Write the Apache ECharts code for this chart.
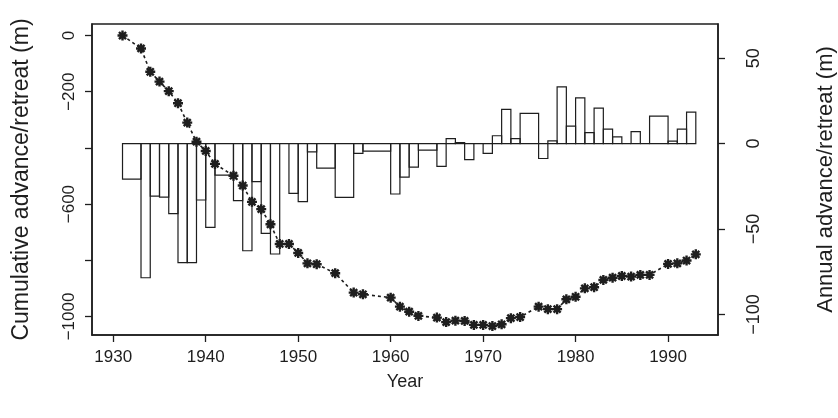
<!DOCTYPE html>
<html>
<head>
<meta charset="utf-8">
<script src="https://cdn.jsdelivr.net/npm/echarts@6/dist/echarts.min.js"></script>
<style>
html,body{margin:0;padding:0;background:#ffffff;}
#chart{width:838px;height:418px;}
</style>
</head>
<body>
<div id="chart"></div>
<script>
// Survey years and cumulative advance/retreat (m), left axis
const years = [1931,1933,1934,1935,1936,1937,1938,1939,1940,1941,
  1943,1944,1945,1946,1947,1948,1949,1950,1951,1952,
  1954,1956,1957,1960,1961,1962,1963,1965,1966,1967,
  1968,1969,1970,1971,1972,1973,1974,1976,1977,1978,
  1979,1980,1981,1982,1983,1984,1985,1986,1987,1988,
  1990,1991,1992,1993];
const cumulative = [0,-46,-129,-164,-198,-241,-310,-378,-411,-457,
  -499,-534,-592,-618,-672,-742,-742,-774,-811,-814,
  -846,-915,-921,-933,-965,-983,-998,-1004,-1020,-1015,
  -1016,-1030,-1030,-1034,-1028,-1006,-1002,-965,-974,-974,
  -939,-930,-900,-896,-870,-862,-856,-858,-852,-852,
  -813,-811,-801,-779];
// Annual advance/retreat (m) for each interval between survey years, right axis
const annual = [-20.8,-78.5,-30.7,-31.3,-41,-69.7,-69.7,-33,-49,-18.4,
  -33.4,-62.7,-22.3,-52.5,-64.6,0,-29.1,-34,-4.8,-14.3,
  -31.5,-5.7,-4.4,-29.5,-19.6,-13.7,-3.8,-13.3,2.9,0.6,
  -9.4,0,-5.7,4.6,20,2.9,17.7,-8.7,1.6,33.2,
  10.2,26.8,6.4,20.8,8.5,4,0,7,0,16.1,
  1.5,8.5,18.4];
// Tick labels
const xTicks = [1930,1940,1950,1960,1970,1980,1990];
const leftTicks = [0,-200,-400,-600,-800,-1000];
const leftLabels = [0,-200,-600,-1000];
const rightTicks = [50,0,-50,-100];

const barData = annual.map((v,i)=>[years[i], years[i+1], v]);
const lineData = years.map((y,i)=>[y, cumulative[i]]);

const ink = '#1e1e1e';
const font = 'Liberation Sans, Arial, Helvetica, sans-serif';
const minus = v => String(v).replace('-', '\u2212');

const star = 'path://M-1.2,-5L1.2,-5L1.2,5L-1.2,5Z M-5,-1.2L5,-1.2L5,1.2L-5,1.2Z ' +
  'M-2.68,-4.38L4.38,2.68L2.68,4.38L-4.38,-2.68Z M-4.38,2.68L2.68,-4.38L4.38,-2.68L-2.68,4.38Z';

const axisLine = {show: true, onZero: false, lineStyle: {color: ink, width: 1.5}};
const tickStyle = {color: ink, width: 1.3};

const chart = echarts.init(document.getElementById('chart'), null, {renderer:'canvas'});
chart.setOption({
  backgroundColor: '#ffffff',
  animation: false,
  grid: {left: 92, right: 120, top: 24, bottom: 83, outerBoundsMode: 'none', containLabel: false,
    show: true, borderColor: ink, borderWidth: 1.5, backgroundColor: 'transparent'},
  xAxis: {
    type: 'value', min: 1927.7, max: 1995.4,
    name: 'Year', nameLocation: 'middle', nameGap: 38,
    nameTextStyle: {fontFamily: font, fontSize: 18, color: ink},
    axisLine: axisLine,
    axisTick: {show: true, inside: false, customValues: xTicks, length: 7, lineStyle: tickStyle},
    axisLabel: {customValues: xTicks, fontFamily: font, fontSize: 17, color: ink, margin: 14, formatter: v => String(v)},
    splitLine: {show: false}
  },
  yAxis: [{
    type: 'value', position: 'left', min: -1066, max: 41,
    name: 'Cumulative advance/retreat (m)', nameLocation: 'middle', nameRotate: 90, nameGap: 59,
    nameTextStyle: {fontFamily: font, fontSize: 23, color: ink},
    axisLine: axisLine,
    axisTick: {show: true, inside: false, customValues: leftTicks, length: 7, lineStyle: tickStyle},
    axisLabel: {customValues: leftLabels, rotate: 90, fontFamily: font, fontSize: 17, color: ink, margin: 14, formatter: minus},
    splitLine: {show: false}
  },{
    type: 'value', position: 'right', min: -112, max: 70,
    name: 'Annual advance/retreat (m)', nameLocation: 'middle', nameRotate: 90, nameGap: 97,
    nameTextStyle: {fontFamily: font, fontSize: 22, color: ink},
    axisLine: axisLine,
    axisTick: {show: true, inside: false, customValues: rightTicks, length: 7, lineStyle: tickStyle},
    axisLabel: {customValues: rightTicks, rotate: 90, fontFamily: font, fontSize: 18, color: ink, margin: 27, formatter: minus},
    splitLine: {show: false}
  }],
  series: [{
    type: 'custom', xAxisIndex: 0, yAxisIndex: 1, data: barData, z: 1,
    encode: {x: [0,1], y: 2},
    renderItem: function(params, api){
      const p0 = api.coord([api.value(0), 0]);
      const p1 = api.coord([api.value(1), api.value(2)]);
      return {type: 'polygon', shape: {points: [[p0[0],p0[1]],[p0[0],p1[1]],[p1[0],p1[1]],[p1[0],p0[1]]]},
        style: {fill: 'none', stroke: ink, lineWidth: 1.2}};
    }
  },{
    type: 'line', xAxisIndex: 0, yAxisIndex: 0, data: lineData, z: 3,
    symbol: star, symbolSize: 10,
    itemStyle: {color: ink},
    lineStyle: {color: ink, width: 1.6, type: [3,3]}
  }]
});
</script>
</body>
</html>
